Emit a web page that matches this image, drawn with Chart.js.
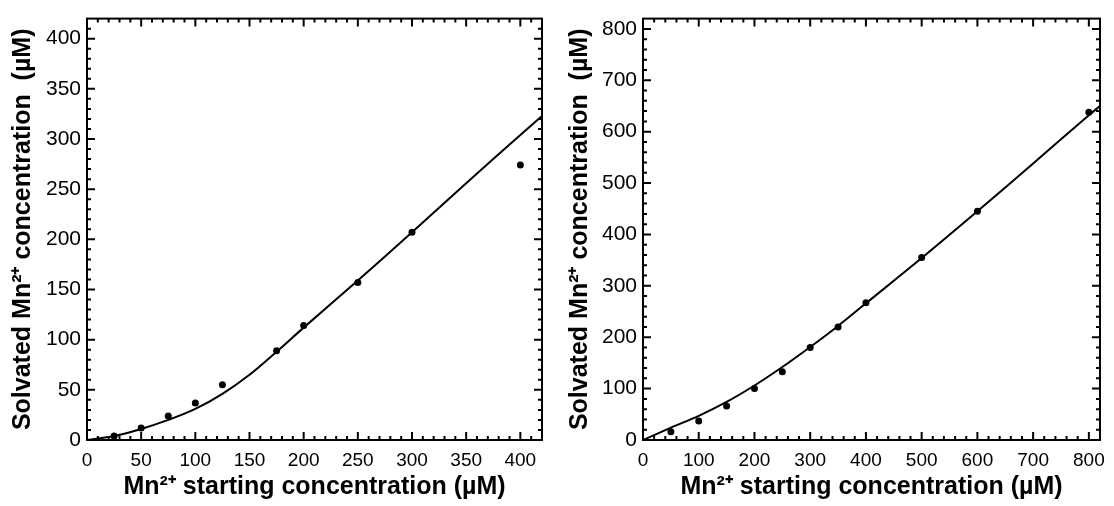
<!DOCTYPE html>
<html>
<head>
<meta charset="utf-8">
<script src="https://cdn.jsdelivr.net/npm/chart.js@4/dist/chart.umd.min.js"></script>
<style>
  body { margin: 0; background: #fff; }
  .box { position: absolute; top: 0; width: 557px; height: 506px; }
  #leftBox { left: 0; }
  #rightBox { left: 557px; }
</style>
</head>
<body>
<div class="box" id="leftBox"><canvas id="chartLeft"></canvas></div>
<div class="box" id="rightBox"><canvas id="chartRight"></canvas></div>
<script>
// left panel: measured points
const leftX = [25, 50, 75, 100, 125, 175, 200, 250, 300, 400];
const leftY = [4, 12, 24, 37, 55, 89, 114, 157, 207, 274];
// left panel: fitted curve
const leftFitX = [0, 25, 50, 75, 100, 125, 150, 175, 200, 250, 300, 350, 400, 420];
const leftFitY = [0, 4, 11, 20, 31, 46, 65, 88, 112, 159, 207, 256, 304, 323];
const leftTicks = [0, 50, 100, 150, 200, 250, 300, 350, 400];

// right panel: measured points
const rightX = [50, 100, 150, 200, 250, 300, 350, 400, 500, 600, 800];
const rightY = [16, 37, 66, 100, 133, 180, 220, 267, 355, 445, 638];
// right panel: fitted curve
const rightFitX = [0, 50, 100, 150, 200, 250, 300, 350, 400, 500, 600, 700, 800, 820];
const rightFitY = [0, 24, 47, 74, 106, 142, 181, 222, 266, 354, 445, 538, 632, 650];
const rightTicks = [0, 100, 200, 300, 400, 500, 600, 700, 800];

const xTitle = 'Mn²⁺ starting concentration (µM)';
const yTitle = 'Solvated Mn²⁺ concentration  (µM)';

function pairs(xs, ys) {
  return xs.map((v, i) => ({x: v, y: ys[i]}));
}

// frame plus inward major/minor ticks on all four sides
const frameTicks = {
  id: 'frameTicks',
  afterDraw(chart, args, opts) {
    const ctx = chart.ctx;
    const a = chart.chartArea;
    const x = chart.scales.x, y = chart.scales.y;
    ctx.save();
    ctx.strokeStyle = '#000';
    ctx.lineWidth = 2;
    ctx.strokeRect(a.left, a.top, a.right - a.left, a.bottom - a.top);
    ctx.beginPath();
    for (let v = opts.minor; v < opts.max; v += opts.minor) {
      const len = v % opts.major === 0 ? 8 : 4;
      const px = x.getPixelForValue(v);
      ctx.moveTo(px, a.bottom); ctx.lineTo(px, a.bottom - len);
      ctx.moveTo(px, a.top); ctx.lineTo(px, a.top + len);
      const py = y.getPixelForValue(v);
      ctx.moveTo(a.left, py); ctx.lineTo(a.left + len, py);
      ctx.moveTo(a.right, py); ctx.lineTo(a.right - len, py);
    }
    ctx.stroke();
    ctx.restore();
  }
};

function makeChart(id, pts, fit, tickVals, max, minor, pad) {
  const major = tickVals[1] - tickVals[0];
  const setTicks = s => { s.ticks = tickVals.map(v => ({value: v})); };
  return new Chart(document.getElementById(id), {
    type: 'scatter',
    data: {
      datasets: [{
        data: fit,
        showLine: true,
        borderColor: '#000',
        borderWidth: 2,
        pointRadius: 0,
        tension: 0.35
      }, {
        data: pts,
        backgroundColor: '#000',
        borderColor: '#000',
        pointRadius: 3.5,
        borderWidth: 0
      }]
    },
    options: {
      responsive: true,
      maintainAspectRatio: false,
      animation: false,
      layout: {padding: pad},
      plugins: {
        legend: {display: false},
        tooltip: {enabled: false},
        frameTicks: {max: max, major: major, minor: minor}
      },
      scales: {
        x: {
          type: 'linear', min: 0, max: max,
          afterBuildTicks: setTicks,
          afterFit: s => { s.height = 66; },
          grid: {display: false, drawTicks: false},
          border: {display: false},
          ticks: {padding: 9, color: '#000',
                  font: {family: 'Liberation Sans, Arial', size: 19}},
          title: {display: true, text: xTitle, color: '#000', padding: {top: 1},
                  font: {family: 'Liberation Sans, Arial', size: 25, weight: 'bold'}}
        },
        y: {
          type: 'linear', min: 0, max: max,
          afterBuildTicks: setTicks,
          afterFit: s => { s.width = pad.yw; },
          grid: {display: false, drawTicks: false},
          border: {display: false},
          ticks: {padding: 6, color: '#000',
                  font: {family: 'Liberation Sans, Arial', size: 21}},
          title: {display: true, text: yTitle, color: '#000', padding: {top: 0, bottom: 2},
                  font: {family: 'Liberation Sans, Arial', size: 25, weight: 'bold'}}
        }
      }
    },
    plugins: [frameTicks]
  });
}

makeChart('chartLeft', pairs(leftX, leftY), pairs(leftFitX, leftFitY), leftTicks, 420, 10,
  {left: 8, right: 15, top: 14, bottom: 0, yw: 79});
makeChart('chartRight', pairs(rightX, rightY), pairs(rightFitX, rightFitY), rightTicks, 820, 20,
  {left: 8, right: 12, top: 10, bottom: 0, yw: 78});
</script>
</body>
</html>
